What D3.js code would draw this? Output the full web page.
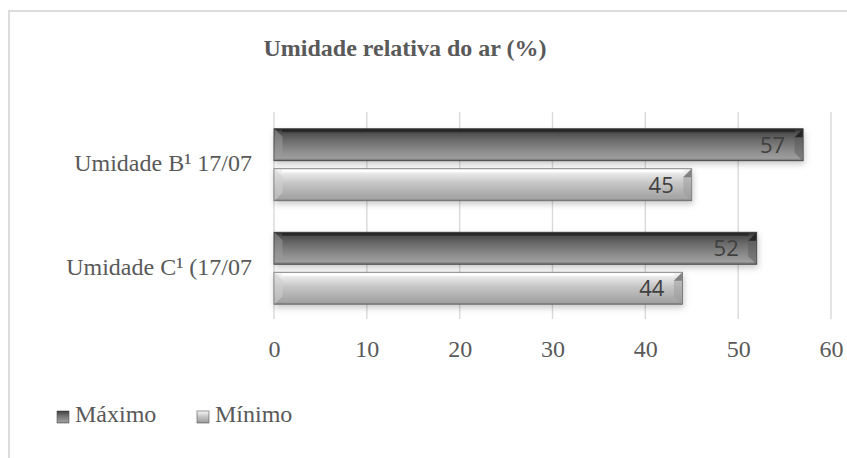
<!DOCTYPE html>
<html>
<head>
<meta charset="utf-8">
<script src="https://cdn.jsdelivr.net/npm/d3@7"></script>
<style>
  html, body { margin: 0; padding: 0; background: #fff; }
  svg { display: block; }
</style>
</head>
<body>
<script>
// Relative humidity readings per site
const categories = ["Umidade B¹ 17/07", "Umidade C¹ (17/07"];
const seriesNames = ["Máximo", "Mínimo"];
const maximo = [57, 52];
const minimo = [45, 44];
const xTicks = [0, 10, 20, 30, 40, 50, 60];
const title = "Umidade relativa do ar (%)";

const W = 847, H = 458;
const svg = d3.select("body").append("svg").attr("width", W).attr("height", H);
const defs = svg.append("defs");

// Gradients giving the bars their bevelled, shaded look
function vGrad(id, stops) {
  const g = defs.append("linearGradient").attr("id", id)
    .attr("x1", 0).attr("y1", 0).attr("x2", 0).attr("y2", 1);
  stops.forEach(s => g.append("stop").attr("offset", s[0]).attr("stop-color", s[1]));
}
vGrad("gMax", [[0, "#262626"], [0.1, "#4a4a4a"], [0.35, "#6a6a6a"], [0.7, "#8c8c8c"], [0.92, "#9e9e9e"], [1, "#6a6a6a"]]);
vGrad("gMin", [[0, "#f6f6f6"], [0.12, "#ececec"], [0.45, "#c6c6c6"], [0.82, "#aaaaaa"], [0.94, "#a4a4a4"], [1, "#707070"]]);
const sh = defs.append("filter").attr("id", "shadow")
  .attr("x", "-5%").attr("y", "-30%").attr("width", "110%").attr("height", "180%");
sh.append("feDropShadow").attr("dx", 1).attr("dy", 3).attr("stdDeviation", 3)
  .attr("flood-color", "#000").attr("flood-opacity", 0.22);

// Chart frame
svg.append("rect").attr("x", 9).attr("y", 11).attr("width", 860).attr("height", 470)
  .attr("fill", "#fff").attr("stroke", "#d9d9d9").attr("stroke-width", 1.8);

const txt = "#595959";
const serif = "'Liberation Serif', 'Times New Roman', serif";
const fs = 24;

svg.append("text").attr("x", 405).attr("y", 56).attr("text-anchor", "middle")
  .attr("font-family", serif).attr("font-weight", "bold").attr("font-size", fs)
  .attr("fill", txt).text(title);

const x = d3.scaleLinear().domain([0, 60]).range([274, 831]);
const y = d3.scaleBand().domain(categories).range([113, 320]).paddingInner(0.304).paddingOuter(0.152);
const ySub = d3.scaleBand().domain(seriesNames).range([0, y.bandwidth()]).paddingInner(0.2);

// Gridlines
svg.append("g").selectAll("line").data(xTicks).join("line")
  .attr("x1", d => x(d)).attr("x2", d => x(d)).attr("y1", 112).attr("y2", 319)
  .attr("stroke", "#d9d9d9").attr("stroke-width", 1.4);

// Tick labels
const xAxis = d3.axisBottom(x).tickValues(xTicks).tickSize(0).tickPadding(0);
const gx = svg.append("g").attr("transform", "translate(0,357)").call(xAxis);
gx.select(".domain").remove();
gx.selectAll("text").attr("font-family", serif).attr("font-size", fs).attr("fill", txt)
  .attr("y", 0).attr("dy", 0);

// Category labels
const yAxis = d3.axisLeft(y).tickSize(0).tickPadding(0);
const gy = svg.append("g").attr("transform", "translate(252,0)").call(yAxis);
gy.select(".domain").remove();
gy.selectAll("text").attr("font-family", serif).attr("font-size", fs).attr("fill", txt)
  .attr("dy", "0.27em");

// Bars
const rows = [];
categories.forEach((c, i) => {
  rows.push({ cat: c, s: "Máximo", v: maximo[i] });
  rows.push({ cat: c, s: "Mínimo", v: minimo[i] });
});

const bars = svg.append("g").selectAll("g").data(rows).join("g")
  .attr("transform", d => `translate(0,${y(d.cat) + ySub(d.s)})`);
const bh = ySub.bandwidth();
const bev = 8;
const isMax = d => d.s === "Máximo";

bars.append("rect").attr("x", x(0)).attr("y", 0)
  .attr("width", d => x(d.v) - x(0)).attr("height", bh)
  .attr("fill", d => isMax(d) ? "url(#gMax)" : "url(#gMin)")
  .attr("stroke", d => isMax(d) ? "#3a3a3a" : "#6a6a6a").attr("stroke-width", 0.8)
  .attr("filter", "url(#shadow)");

// Bevelled end caps
bars.append("path")
  .attr("d", `M0,0 L${bev},${bev} L${bev},${bh - bev} L0,${bh} Z`)
  .attr("transform", `translate(${x(0) + 0.5},0)`)
  .attr("fill", d => isMax(d) ? "#9a9a9a" : "#d0d0d0").attr("opacity", 0.55);
bars.append("path")
  .attr("d", `M0,0 L${-bev},${bev} L${-bev},${bh - bev} L0,${bh} Z`)
  .attr("transform", d => `translate(${x(d.v) - 0.5},0)`)
  .attr("fill", d => isMax(d) ? "#5a5a5a" : "#9a9a9a").attr("opacity", 0.5);
bars.append("path")
  .attr("d", `M0,0 L${-bev},${bev} L0,${bev} Z`)
  .attr("transform", d => `translate(${x(d.v) - 0.5},0.5)`)
  .attr("fill", d => isMax(d) ? "#111" : "#666").attr("opacity", 0.7);
// Top highlight on the light bars / dark rim on the dark bars
bars.append("rect").attr("x", x(0) + bev).attr("y", 1)
  .attr("width", d => x(d.v) - x(0) - 2 * bev).attr("height", 2.5)
  .attr("fill", d => isMax(d) ? "#151515" : "#ffffff")
  .attr("opacity", d => isMax(d) ? 0.55 : 0.95);

bars.append("text").attr("x", d => x(d.v) - 18).attr("y", bh / 2).attr("dy", "0.36em")
  .attr("text-anchor", "end").attr("font-family", "'Open Sans', 'Liberation Sans', sans-serif")
  .attr("font-size", 22).attr("fill", "#404040").text(d => d.v);

// Legend
const legend = svg.append("g").selectAll("g").data(seriesNames).join("g")
  .attr("transform", (d, i) => `translate(${[57, 197][i]},411)`);
legend.append("rect").attr("width", 12).attr("height", 12)
  .attr("fill", d => d === "Máximo" ? "url(#gMax)" : "url(#gMin)")
  .attr("stroke", "#555").attr("stroke-width", 0.6);
legend.append("text").attr("x", 18).attr("y", 11)
  .attr("font-family", serif).attr("font-size", fs).attr("fill", txt).text(d => d);
</script>
</body>
</html>
